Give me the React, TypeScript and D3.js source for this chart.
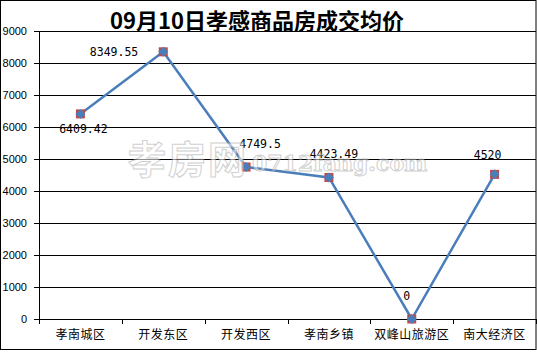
import React from "react";
import * as d3 from "d3";

const categories = ["孝南城区", "开发东区", "开发西区", "孝南乡镇", "双峰山旅游区", "南大经济区"];
const prices = [6409.42, 8349.55, 4749.5, 4423.49, 0, 4520];
const priceLabels = ["6409.42", "8349.55", "4749.5", "4423.49", "0", "4520"];
const yTicks = [0, 1000, 2000, 3000, 4000, 5000, 6000, 7000, 8000, 9000];
const title = "09月10日孝感商品房成交均价";

// label placement offsets (style, not data)
const labelOffsets: [number, number, string][] = [
  [3, 19, "middle"],
  [-25, 4, "end"],
  [14, -19, "middle"],
  [5, -19, "middle"],
  [-5, -19, "middle"],
  [-7, -15, "middle"],
];

const W = 537;
const H = 352;
const left = 39;
const right = 536;
const top = 31;
const bottom = 319;

export default function App() {
  const x = d3.scaleBand<string>().domain(categories).range([left, right]).padding(0);
  const y = d3.scaleLinear().domain([0, 9000]).range([bottom, top]);
  const cx = (c: string) => (x(c) as number) + x.bandwidth() / 2;
  const line = d3
    .line<number>()
    .x((_, i) => cx(categories[i]))
    .y((d) => y(d));
  const blue = "#4a7ebb";
  const red = "#be4b48";
  const labelFont = "'DejaVu Sans Mono', 'Liberation Mono', monospace";
  return (
    <div style={{ position: "absolute", left: 0, top: 0 }}>
      <svg width={W} height={H} style={{ display: "block", background: "#fff" }}>
        <rect x={0.5} y={0.5} width={W - 1.5} height={H - 3} fill="#fff" stroke="#000" />
        <text
          x={257}
          y={29}
          textAnchor="middle"
          fontFamily="'Noto Sans CJK SC', 'DejaVu Serif', serif"
          fontWeight="bold"
          fontSize={22}
          fill="#000"
        >
          {title}
        </text>
        {yTicks.map((t) => (
          <g key={t}>
            <line x1={left} x2={right} y1={Math.round(y(t)) + 0.5} y2={Math.round(y(t)) + 0.5} stroke="#000" />
            <line x1={left - 5} x2={left} y1={Math.round(y(t)) + 0.5} y2={Math.round(y(t)) + 0.5} stroke="#000" />
            <text
              x={27}
              y={y(t) + 4}
              textAnchor="end"
              fontFamily="'Liberation Sans', Arial, sans-serif"
              fontSize={11}
              fill="#000"
            >
              {t}
            </text>
          </g>
        ))}
        <line x1={left + 0.5} x2={left + 0.5} y1={top} y2={bottom + 5} stroke="#000" />
        {categories.map((c, i) => (
          <line
            key={"t" + i}
            x1={Math.round((x(c) as number) + x.bandwidth()) + 0.5}
            x2={Math.round((x(c) as number) + x.bandwidth()) + 0.5}
            y1={bottom}
            y2={bottom + 5}
            stroke="#000"
          />
        ))}
        {categories.map((c) => (
          <text
            key={c}
            x={cx(c)}
            y={339}
            textAnchor="middle"
            fontFamily="'Noto Sans CJK SC', sans-serif"
            fontSize={12}
            letterSpacing={0.5}
            fill="#000"
          >
            {c}
          </text>
        ))}
        <path d={line(prices) || ""} fill="none" stroke={blue} strokeWidth={2.5} />
        {prices.map((v, i) => {
          const px = cx(categories[i]);
          const py = y(v);
          return (
            <g key={"m" + i}>
              <rect x={px - 4.5} y={py - 4.5} width={9} height={9} fill={red} />
              <path d={`M${px},${py - 5}L${px + 5},${py}L${px},${py + 5}L${px - 5},${py}Z`} fill={blue} />
            </g>
          );
        })}
        {prices.map((v, i) => {
          const [dx, dy, anchor] = labelOffsets[i];
          return (
            <text
              key={"l" + i}
              x={cx(categories[i]) + dx}
              y={y(v) + dy}
              textAnchor={anchor as any}
              fontFamily={labelFont}
              fontSize={11.5}
              fill="#000"
            >
              {priceLabels[i]}
            </text>
          );
        })}
        <g opacity={0.55}>
          <text
            x={128}
            y={173}
            fontFamily="'Noto Sans CJK SC', sans-serif"
            fontSize={38}
            fontWeight="bold"
            fill="#fff"
            stroke="#aaa"
            strokeWidth={1}
            letterSpacing={2}
          >
            孝房网
          </text>
          <text
            x={252}
            y={171}
            fontFamily="'DejaVu Serif', serif"
            fontSize={22}
            fontWeight="bold"
            fill="#fff"
            stroke="#aaa"
            strokeWidth={1}
          >
            0712fang.com
          </text>
        </g>
      </svg>
    </div>
  );
}
